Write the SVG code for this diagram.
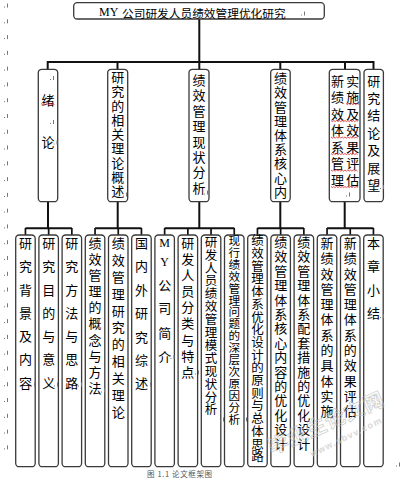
<svg xmlns="http://www.w3.org/2000/svg" xmlns:xlink="http://www.w3.org/1999/xlink" width="400" height="482" viewBox="0 0 400 482">
<style>
.bx{fill:#fff;stroke:#3a3a3a;stroke-width:1.3}
.t{font-family:"Noto Sans CJK SC","Noto Sans CJK JP",sans-serif;font-size:13px;fill:#000;text-anchor:middle;dominant-baseline:central}
.v{font-family:"Noto Sans CJK SC","Noto Sans CJK JP",sans-serif;font-size:13px;fill:#000;writing-mode:vertical-rl;text-anchor:start}
.lat{font-family:"Liberation Serif",serif}
.ln{stroke:#111;stroke-width:2;fill:none}
.ln2{stroke:#111;stroke-width:1.7;fill:none}
.sq{stroke:#e02020;stroke-width:.8;fill:none}
.pm{fill:#777}
</style>
<defs>
<g id="m"><rect x="0" y="0.5" width="1" height="1"/><rect x="3" y="-2.5" width="1" height="4"/></g>
</defs>
<rect width="400" height="482" fill="#fff"/>

<g id="connectors">
<path class="ln" d="M199.3 19V62M47.7 62H374M47.7 61V69.3M117.5 61V69.3M199.3 61V69.3M280.3 61V69.3M345 61V69.3M373.5 61V69.3"/>
<path class="ln" d="M48 201.7V228.3M25.45 228.3H71.85M117.7 201.7V228.3M95.05 228.3H141.45M199.3 201.7V228.3M164.65 228.3H234.25M280.3 201.7V228.3M257.45 228.3H303.85M344.7 201.7V228.3M327.05 228.3H373.45"/>
<path class="ln2" d="M25.45 228V235M48.65 228V235M71.85 228V235M95.05 228V235M118.25 228V235M141.45 228V235M164.65 228V235M187.85 228V235M211.05 228V235M234.25 228V235M257.45 228V235M280.65 228V235M303.85 228V235M327.05 228V235M350.25 228V235M373.45 228V235"/>
</g>

<g id="title">
<rect class="bx" x="73.7" y="2.7" width="250.6" height="16.3" rx="3.5"/>
<text class="t" style="font-size:12px;text-anchor:start" y="11.5"><tspan class="lat" x="99">MY</tspan><tspan x="122" style="font-size:11.7px">公司研发人员绩效管理优化研究</tspan></text>
</g>

<g id="n-a">
<rect class="bx" x="38.3" y="69.3" width="19.4" height="132.4" rx="3.5"/>
<text class="v" x="48" y="93.5" letter-spacing="28.7">绪论</text>
<path class="sq" d="M41 103.5l1.5 1.2 1.5-1.2 1.5 1.2 1.5-1.2 1.5 1.2 1.5-1.2 1.5 1.2 1.5-1.2 1.5 1.2"/>
</g>
<g id="n-b">
<rect class="bx" x="107.7" y="69.3" width="20" height="132.4" rx="3.5"/>
<text class="v" x="117.7" y="70.5" letter-spacing="1.3">研究的相关理论概述</text>
</g>
<g id="n-c">
<rect class="bx" x="189" y="69.3" width="20" height="132.4" rx="3.5"/>
<text class="v" x="199" y="73.5" letter-spacing="2.4">绩效管理现状分析</text>
</g>
<g id="n-d">
<rect class="bx" x="270.7" y="69.3" width="19.5" height="132.4" rx="3.5"/>
<text class="v" x="280.4" y="71.8" letter-spacing="1.2">绩效管理体系核心内</text>
</g>
<g id="n-e">
<rect class="bx" x="329.3" y="69.3" width="30.7" height="132.4" rx="3.5"/>
<text class="v" x="337.6" y="74.2" letter-spacing="3.5">新绩效体系管理</text>
<text class="v" x="352.8" y="74.2" letter-spacing="3.5">实施及效果评估</text>
<path class="sq" d="M346 103.5l1.4 1.1 1.4-1.1 1.4 1.1 1.4-1.1 1.4 1.1 1.4-1.1 1.4 1.1 1.4-1.1 1.4 1.1M331 120.5l1.4 1.1 1.4-1.1 1.4 1.1 1.4-1.1 1.4 1.1 1.4-1.1 1.4 1.1 1.4-1.1 1.4 1.1 1.4-1.1 1.4 1.1 1.4-1.1 1.4 1.1 1.4-1.1 1.4 1.1 1.4-1.1 1.4 1.1 1.4-1.1 1.4 1.1M331 137l1.4 1.1 1.4-1.1 1.4 1.1 1.4-1.1 1.4 1.1 1.4-1.1 1.4 1.1 1.4-1.1 1.4 1.1 1.4-1.1 1.4 1.1 1.4-1.1 1.4 1.1 1.4-1.1 1.4 1.1 1.4-1.1 1.4 1.1 1.4-1.1 1.4 1.1M331 153.5l1.4 1.1 1.4-1.1 1.4 1.1 1.4-1.1 1.4 1.1 1.4-1.1 1.4 1.1 1.4-1.1 1.4 1.1 1.4-1.1 1.4 1.1 1.4-1.1 1.4 1.1 1.4-1.1 1.4 1.1 1.4-1.1 1.4 1.1 1.4-1.1 1.4 1.1M331 170l1.4 1.1 1.4-1.1 1.4 1.1 1.4-1.1 1.4 1.1 1.4-1.1 1.4 1.1 1.4-1.1 1.4 1.1 1.4-1.1 1.4 1.1 1.4-1.1 1.4 1.1 1.4-1.1 1.4 1.1 1.4-1.1 1.4 1.1 1.4-1.1 1.4 1.1M331 186.5l1.4 1.1 1.4-1.1 1.4 1.1 1.4-1.1 1.4 1.1 1.4-1.1 1.4 1.1 1.4-1.1 1.4 1.1 1.4-1.1 1.4 1.1 1.4-1.1 1.4 1.1 1.4-1.1 1.4 1.1 1.4-1.1 1.4 1.1 1.4-1.1 1.4 1.1"/>
</g>
<g id="n-f">
<rect class="bx" x="364" y="69.3" width="19.4" height="132.4" rx="3.5"/>
<text class="v" x="373.7" y="74.2" letter-spacing="4.4">研究结论及展望</text>
</g>

<g id="c1">
<rect class="bx" x="15.7" y="235" width="19.5" height="231.7" rx="3.5"/>
<text class="v" x="25.45" y="236.5" letter-spacing="10.3">研究背景及内容</text>
</g>
<g id="c2">
<rect class="bx" x="38.9" y="235" width="19.5" height="231.7" rx="3.5"/>
<text class="v" x="48.65" y="236.5" letter-spacing="10.3">研究目的与意义</text>
</g>
<g id="c3">
<rect class="bx" x="62.1" y="235" width="19.5" height="231.7" rx="3.5"/>
<text class="v" x="71.85" y="236.5" letter-spacing="10.3">研究方法与思路</text>
</g>
<g id="c4">
<rect class="bx" x="85.3" y="235" width="19.5" height="231.7" rx="3.5"/>
<text class="v" x="95.05" y="236.5" letter-spacing="3.1">绩效管理的概念与方法</text>
</g>
<g id="c5">
<rect class="bx" x="108.5" y="235" width="19.5" height="231.7" rx="3.5"/>
<text class="v" x="118.25" y="236.5" letter-spacing="3.9">绩效管理研究的相关理论</text>
</g>
<g id="c6">
<rect class="bx" x="131.7" y="235" width="19.5" height="231.7" rx="3.5"/>
<text class="v" x="141.45" y="236.5" letter-spacing="10.4">国内外研究综述</text>
</g>
<g id="c7">
<rect class="bx" x="154.9" y="235" width="19.5" height="231.7" rx="3.5"/>
<text class="t lat" x="164.65" y="243" style="font-size:12px">M</text>
<text class="t lat" x="164.65" y="262" style="font-size:12px">Y</text>
<text class="t" x="164.65" y="284">公</text>
<text class="t" x="164.65" y="307">司</text>
<text class="t" x="164.65" y="332">简</text>
<text class="t" x="164.65" y="356">介</text>
</g>
<g id="c8">
<rect class="bx" x="178.1" y="235" width="19.5" height="231.7" rx="3.5"/>
<text class="v" x="187.85" y="236.5" letter-spacing="3.1">研发人员分类与特点</text>
</g>
<g id="c9">
<rect class="bx" x="201.3" y="235" width="19.5" height="231.7" rx="3.5"/>
<text class="v" x="211.05" y="235.75" letter-spacing="0.4" style="font-size:12.5px">研发人员绩效管理模式现状分析</text>
</g>
<g id="c10">
<rect class="bx" x="224.5" y="235" width="19.5" height="231.7" rx="3.5"/>
<text class="v" x="234.25" y="234.8" letter-spacing="0.3" style="font-size:11.6px">现行绩效管理问题的深层次原因分析</text>
</g>
<g id="c11">
<rect class="bx" x="247.7" y="235" width="19.5" height="231.7" rx="3.5"/>
<text class="v" x="257.45" y="234.4" letter-spacing="0.2" style="font-size:12.5px">绩效管理体系优化设计的原则与总体思路</text>
</g>
<g id="c12">
<rect class="bx" x="270.9" y="235" width="19.5" height="231.7" rx="3.5"/>
<text class="v" x="280.65" y="235.5" letter-spacing="1.4">绩效管理体系核心内容的优化设计</text>
</g>
<g id="c13">
<rect class="bx" x="294.1" y="235" width="19.5" height="231.7" rx="3.5"/>
<text class="v" x="303.85" y="235.5" letter-spacing="1.4">绩效管理体系配套措施的优化设计</text>
</g>
<g id="c14">
<rect class="bx" x="317.3" y="235" width="19.5" height="231.7" rx="3.5"/>
<text class="v" x="327.05" y="236.5" letter-spacing="2.3">新绩效管理体系的具体实施</text>
</g>
<g id="c15">
<rect class="bx" x="340.5" y="235" width="19.5" height="231.7" rx="3.5"/>
<text class="v" x="350.25" y="236.5" letter-spacing="2.3">新绩效管理体系的效果评估</text>
</g>
<g id="c16">
<rect class="bx" x="363.7" y="235" width="19.5" height="231.7" rx="3.5"/>
<text class="v" x="373.45" y="236.5" letter-spacing="10.3">本章小结</text>
</g>

<g id="marks" class="pm">
<use xlink:href="#m" x="4" y="6"/><use xlink:href="#m" x="4" y="21.8"/><use xlink:href="#m" x="4" y="37.6"/><use xlink:href="#m" x="4" y="53.3"/><use xlink:href="#m" x="4" y="69.1"/><use xlink:href="#m" x="4" y="84.9"/><use xlink:href="#m" x="4" y="100.7"/><use xlink:href="#m" x="4" y="116.5"/><use xlink:href="#m" x="4" y="132.2"/><use xlink:href="#m" x="4" y="148"/><use xlink:href="#m" x="4" y="163.8"/><use xlink:href="#m" x="4" y="179.6"/><use xlink:href="#m" x="4" y="195.4"/><use xlink:href="#m" x="4" y="211.1"/><use xlink:href="#m" x="4" y="226.9"/><use xlink:href="#m" x="4" y="242.7"/><use xlink:href="#m" x="4" y="258.5"/><use xlink:href="#m" x="4" y="274.3"/><use xlink:href="#m" x="4" y="290"/><use xlink:href="#m" x="4" y="305.8"/><use xlink:href="#m" x="4" y="321.6"/><use xlink:href="#m" x="4" y="337.4"/><use xlink:href="#m" x="4" y="353.2"/><use xlink:href="#m" x="4" y="369"/><use xlink:href="#m" x="4" y="384.7"/><use xlink:href="#m" x="4" y="400.5"/><use xlink:href="#m" x="4" y="416.3"/><use xlink:href="#m" x="4" y="432.1"/><use xlink:href="#m" x="4" y="447.9"/>
<use xlink:href="#m" x="301" y="14"/><use xlink:href="#m" x="50" y="78.5"/><use xlink:href="#m" x="50" y="122.5"/><use xlink:href="#m" x="53.5" y="143"/><use xlink:href="#m" x="123" y="195"/><use xlink:href="#m" x="204" y="193"/><use xlink:href="#m" x="346" y="195"/><use xlink:href="#m" x="380" y="187.5"/>
<use xlink:href="#m" x="31" y="385"/><use xlink:href="#m" x="54" y="385"/><use xlink:href="#m" x="78" y="385"/><use xlink:href="#m" x="101" y="391"/><use xlink:href="#m" x="124" y="416.5"/><use xlink:href="#m" x="147" y="385"/><use xlink:href="#m" x="170.5" y="357.5"/><use xlink:href="#m" x="195" y="373"/><use xlink:href="#m" x="220" y="420"/><use xlink:href="#m" x="243" y="420"/><use xlink:href="#m" x="380" y="316.5"/><use xlink:href="#m" x="396" y="465"/>
</g>

<g id="watermark" opacity="0.7">
<text x="272" y="455" transform="rotate(-24 272 455)" style="font-family:'Noto Sans CJK SC',sans-serif;font-size:20px;font-weight:bold;fill:none;stroke:#bdbdbd;stroke-width:.8" textLength="124">毕业生论文网</text>
<text x="312" y="457" transform="rotate(-26 312 457)" style="font-family:'Liberation Sans',sans-serif;font-size:9px;font-weight:bold;fill:#c8c8c8" textLength="78">www.sbvv.com</text>
</g>

<text x="147" y="477" style="font-family:'Noto Sans CJK SC',sans-serif;font-size:7.5px;fill:#555" textLength="65">图 1.1 论文框架图</text>
</svg>
